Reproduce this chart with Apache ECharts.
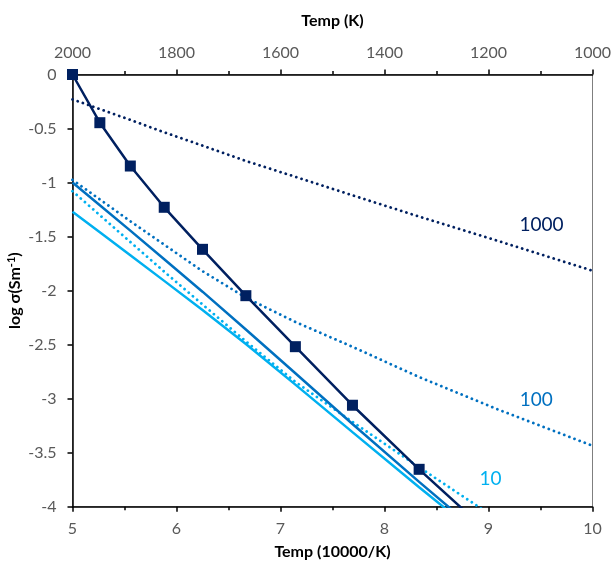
<!DOCTYPE html>
<html>
<head>
<meta charset="utf-8">
<script src="https://cdn.jsdelivr.net/npm/echarts@6/dist/echarts.min.js"></script>
<style>
  html, body { margin: 0; padding: 0; background: #ffffff; }
  #chart { width: 614px; height: 565px; }
</style>
</head>
<body>
<div id="chart"></div>
<script>
// Reciprocal temperature nodes, 10000/T for T = 2000, 1900, ... 1100, 1000 K
const invTemp   = [5.000, 5.263, 5.556, 5.882, 6.250, 6.667, 7.143, 7.692, 8.333, 9.091, 10.000];
// Measured log conductivity (square markers)
const measured  = [0, -0.446, -0.847, -1.229, -1.618, -2.047, -2.519, -3.061, -3.654, -4.32, null];
// Dotted model curves labelled 1000, 100 and 10
const model1000 = [-0.23, -0.32, -0.42, -0.535, -0.658, -0.80, -0.947, -1.118, -1.315, -1.54, -1.816];
const model100  = [-0.975, -1.156, -1.358, -1.575, -1.82, -2.065, -2.29, -2.52, -2.80, -3.10, -3.436];
const model10   = [-1.08, -1.302, -1.55, -1.825, -2.128, -2.47, -2.845, -3.215, -3.635, -4.12, null];
// Solid reference lines
const solidMid   = [-1.0, -1.21, -1.445, -1.71, -2.01, -2.36, -2.765, -3.235, -3.77, -4.39, null];
const solidLight = [-1.27, -1.46, -1.672, -1.91, -2.18, -2.495, -2.87, -3.31, -3.82, -4.41, null];
// Curve tags
const curveTags = ['1000', '100', '10'];
// Top axis (absolute temperature) ticks
const tempTicks = [2000, 1800, 1600, 1400, 1200, 1000];

const NAVY = '#002060', BLUE = '#0070C0', CYAN = '#00B0F0';
const FONT = 'Lato, "Liberation Sans", "DejaVu Sans", sans-serif';
const GREY = '#595959';

function pairs(ys) {
  return invTemp.map((x, i) => [x, ys[i]]);
}
const dotted = { type: [0.01, 5.5], cap: 'round' };

function tagPoint(text, coord, color) {
  return {
    symbol: 'circle',
    symbolSize: 1,
    silent: true,
    itemStyle: { color: 'rgba(0,0,0,0)' },
    data: [{ coord: coord, value: text }],
    label: {
      show: true, position: 'inside', formatter: text,
      color: color, fontSize: 19, fontFamily: FONT
    }
  };
}

const chart = echarts.init(document.getElementById('chart'), null, { renderer: 'canvas' });

chart.setOption({
  animation: false,
  backgroundColor: '#ffffff',
  textStyle: { fontFamily: FONT },
  grid: {
    left: 72.5, right: 21.5, top: 74.5, bottom: 58.3,
    containLabel: false, outerBoundsMode: 'none',
    show: true, borderColor: '#7f7f7f', borderWidth: 1, backgroundColor: 'transparent'
  },
  xAxis: [
    {
      type: 'value', position: 'bottom', min: 5, max: 10, interval: 1,
      name: 'Temp (10000/K)', nameLocation: 'middle', nameGap: 37, nameMoveOverlap: false,
      nameTextStyle: { color: '#000', fontWeight: 'bold', fontSize: 16, fontFamily: FONT },
      axisLine: { show: true, onZero: false, lineStyle: { color: '#000', width: 1.5 } },
      axisTick: { show: true, inside: false, length: 5, lineStyle: { color: '#000', width: 1.5 } },
      minorTick: { show: true, splitNumber: 2, length: 3.5, lineStyle: { color: '#000', width: 1.5 } },
      splitLine: { show: false },
      axisLabel: { color: GREY, fontSize: 16, margin: 14, fontFamily: FONT }
    },
    {
      type: 'value', position: 'top', min: 1000, max: 2000, interval: 200, inverse: true,
      name: 'Temp (K)', nameLocation: 'middle', nameGap: 46, nameMoveOverlap: false,
      nameTextStyle: { color: '#000', fontWeight: 'bold', fontSize: 16, fontFamily: FONT },
      axisLine: { show: true, onZero: false, lineStyle: { color: '#000', width: 1.5 } },
      axisTick: { show: true, inside: false, length: 5, lineStyle: { color: '#000', width: 1.5 } },
      minorTick: { show: true, splitNumber: 2, length: 3.5, lineStyle: { color: '#000', width: 1.5 } },
      splitLine: { show: false },
      axisLabel: {
        color: GREY, fontSize: 16, margin: 14, fontFamily: FONT,
        formatter: v => (tempTicks.indexOf(v) >= 0 ? String(v) : '')
      }
    }
  ],
  yAxis: {
    type: 'value', min: -4, max: 0, interval: 0.5,
    name: '{a|log σ(Sm}{s|-1}{a|)}', nameLocation: 'middle', nameGap: 48, nameMoveOverlap: false,
    nameTextStyle: {
      rich: {
        a: { color: '#000', fontWeight: 'bold', fontSize: 16, fontFamily: FONT, lineHeight: 19 },
        s: { color: '#000', fontWeight: 'bold', fontSize: 11, fontFamily: FONT, lineHeight: 11, verticalAlign: 'top' }
      }
    },
    axisLine: { show: true, onZero: false, lineStyle: { color: '#000', width: 1.5 } },
    axisTick: { show: true, inside: false, length: 5, lineStyle: { color: '#000', width: 1.5 } },
    splitLine: { show: false },
    axisLabel: { color: GREY, fontSize: 16, margin: 16, fontFamily: FONT }
  },
  series: [
    {
      name: 'model 1000', type: 'line', xAxisIndex: 0, data: pairs(model1000),
      symbol: 'none', lineStyle: Object.assign({ color: NAVY, width: 2.8 }, dotted),
      markPoint: tagPoint(curveTags[0], [9.51, -1.39], NAVY)
    },
    {
      name: 'model 100', type: 'line', xAxisIndex: 0, data: pairs(model100),
      symbol: 'none', lineStyle: Object.assign({ color: BLUE, width: 2.8 }, dotted),
      markPoint: tagPoint(curveTags[1], [9.46, -3.015], BLUE)
    },
    {
      name: 'model 10', type: 'line', xAxisIndex: 0, data: pairs(model10),
      symbol: 'none', lineStyle: Object.assign({ color: CYAN, width: 2.8 }, dotted),
      markPoint: tagPoint(curveTags[2], [9.02, -3.746], CYAN)
    },
    {
      name: 'solid light', type: 'line', xAxisIndex: 0, data: pairs(solidLight),
      symbol: 'none', lineStyle: { color: CYAN, width: 2.5 }
    },
    {
      name: 'solid mid', type: 'line', xAxisIndex: 0, data: pairs(solidMid),
      symbol: 'none', lineStyle: { color: BLUE, width: 2.5 }
    },
    {
      name: 'measured', type: 'line', xAxisIndex: 0, data: pairs(measured),
      symbol: 'rect', symbolSize: 11, itemStyle: { color: NAVY },
      lineStyle: { color: NAVY, width: 2.5 }, z: 5
    }
  ]
});
</script>
</body>
</html>
